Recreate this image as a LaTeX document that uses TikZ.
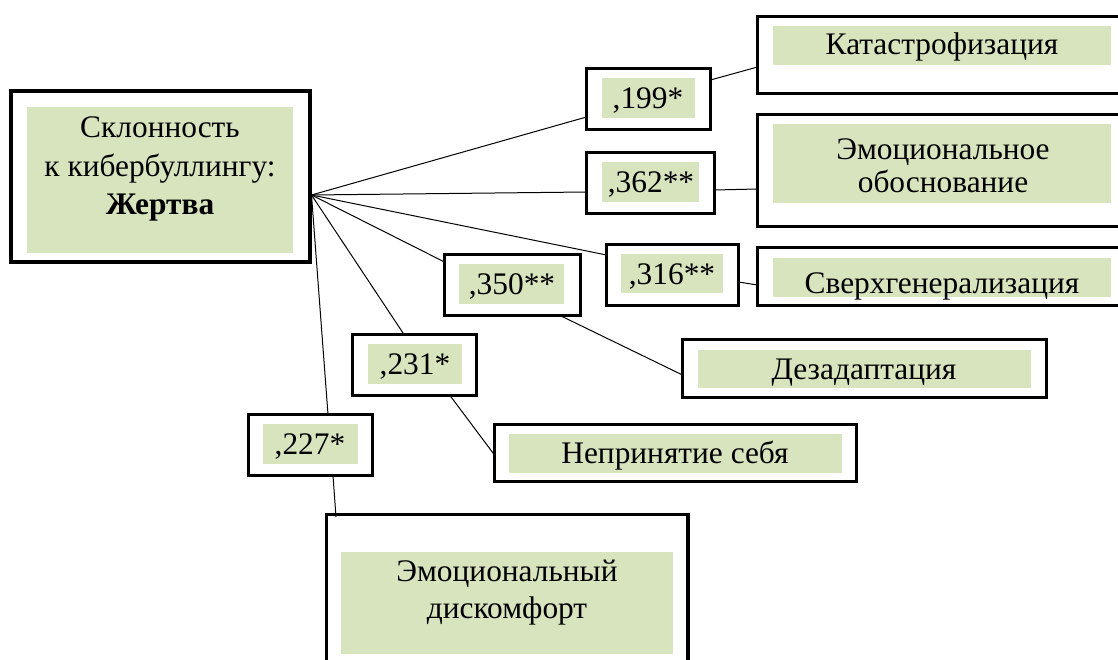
\documentclass[tikz,border=0pt]{standalone}
\usepackage{fontspec}
\setmainfont{Liberation Serif}
\usetikzlibrary{calc}
\definecolor{gfill}{RGB}{215,228,189}
\tikzset{
  outbox/.style={draw=black, line width=3.2bp, inner sep=0pt, outer sep=0pt, fill=none},
  greenrect/.style={fill=gfill},
  txt/.style={inner sep=0pt, outer sep=0pt, anchor=base, font=\fontsize{31.5}{38}\selectfont},
  conn/.style={draw=black, line width=1bp}
}
\begin{document}
\begin{tikzpicture}[x=1bp, y=-1bp]
\clip (0,0) rectangle (1118,660);
\fill[white] (0,0) rectangle (1118,660);
% green fills
\fill[greenrect] (27,107) rectangle (293,253);
\fill[greenrect] (602,78) rectangle (695,118);
\fill[greenrect] (602,162) rectangle (699,202);
\fill[greenrect] (621,254) rectangle (723,293);
\fill[greenrect] (459,264) rectangle (564,304);
\fill[greenrect] (368,344) rectangle (462,384);
\fill[greenrect] (263,424) rectangle (358,464);
\fill[greenrect] (773,26) rectangle (1111,65);
\fill[greenrect] (773,124) rectangle (1111,203);
\fill[greenrect] (773,258) rectangle (1111,297);
\fill[greenrect] (698,350) rectangle (1031,388);
\fill[greenrect] (509,434) rectangle (842,473);
\fill[greenrect] (341,552) rectangle (673,654);
% outer boxes
\node[outbox, minimum width=299bp, minimum height=171bp] (main) at (160.5,176.5) {};
\node[outbox, minimum width=124bp, minimum height=61bp] (b199) at (648.5,99) {};
\node[outbox, minimum width=128bp, minimum height=61bp] (b362) at (650.5,183) {};
\node[outbox, minimum width=132bp, minimum height=61bp] (b316) at (672.5,275) {};
\node[outbox, minimum width=136bp, minimum height=61bp] (b350) at (512.5,285) {};
\node[outbox, minimum width=124bp, minimum height=61bp] (b231) at (414.5,365) {};
\node[outbox, minimum width=124bp, minimum height=61bp] (b227) at (310.5,445) {};
\node[outbox, minimum width=370bp, minimum height=77bp] (kat) at (942.5,55) {};
\node[outbox, minimum width=370bp, minimum height=112bp] (emo) at (942.5,170.5) {};
\node[outbox, minimum width=370bp, minimum height=58bp] (sve) at (942.5,276.5) {};
\node[outbox, minimum width=364bp, minimum height=58bp] (dez) at (864.5,368.5) {};
\node[outbox, minimum width=362bp, minimum height=57bp] (nep) at (675.5,453) {};
\node[outbox, minimum width=361.5bp, minimum height=185.5bp] (dis) at (507.25,607.25) {};
% texts
\node[txt] (m1) at (160,137.3) {Склонность};
\node[txt] (m2) at (160,176.7) {к кибербуллингу:};
\node[txt] (m3) at (160,215) {\bfseries Жертва};
\node[txt] (t199) at (648,108.3) {,199*};
\node[txt] (t362) at (651,192.7) {,362**};
\node[txt] (t316) at (672,284) {,316**};
\node[txt] (t350) at (512,294) {,350**};
\node[txt] (t231) at (415,374) {,231*};
\node[txt] (t227) at (310,454) {,227*};
\node[txt] (tkat) at (942,55) {Катастрофизация};
\node[txt] (temo1) at (943,159.5) {Эмоциональное};
\node[txt] (temo2) at (943,193) {обоснование};
\node[txt] (tsve) at (942,293) {Сверхгенерализация};
\node[txt] (tdez) at (864,379.3) {Дезадаптация};
\node[txt] (tnep) at (675,463) {Непринятие себя};
\node[txt] (tdis1) at (507,581.7) {Эмоциональный};
\node[txt] (tdis2) at (507,618) {дискомфорт};
% connectors
\coordinate (o) at ($(main.east)+(1.5,18.5)$);
\draw[conn] (o) -- ($(b199.north west)+(0,48.5)$);
\draw[conn] (o) -- ($(b362.north west)+(0,39.5)$);
\draw[conn] (o) -- ($(b316.north west)+(0,10.5)$);
\draw[conn] (o) -- ($(b350.north west)+(0,7.5)$);
\draw[conn] (o) -- ($(b231.north west)+(51.5,0)$);
\draw[conn] (o) -- ($(b227.north west)+(79.5,0)$);
\draw[conn] ($(b199.north east)+(0,11.5)$) -- ($(kat.north west)+(0,50.5)$);
\draw[conn] ($(b362.north east)+(0,37.5)$) -- ($(emo.north west)+(0,74.5)$);
\draw[conn] ($(b316.north east)+(0,37.5)$) -- ($(sve.north west)+(0,37.5)$);
\draw[conn] ($(b350.south west)+(115.5,0)$) -- ($(dez.north west)+(0,35.5)$);
\draw[conn] ($(b231.south west)+(97.5,0)$) -- ($(nep.north west)+(0,30.5)$);
\draw[conn] ($(b227.south west)+(84.5,0)$) -- ($(dis.north west)+(9.5,2.5)$);
\end{tikzpicture}
\end{document}
